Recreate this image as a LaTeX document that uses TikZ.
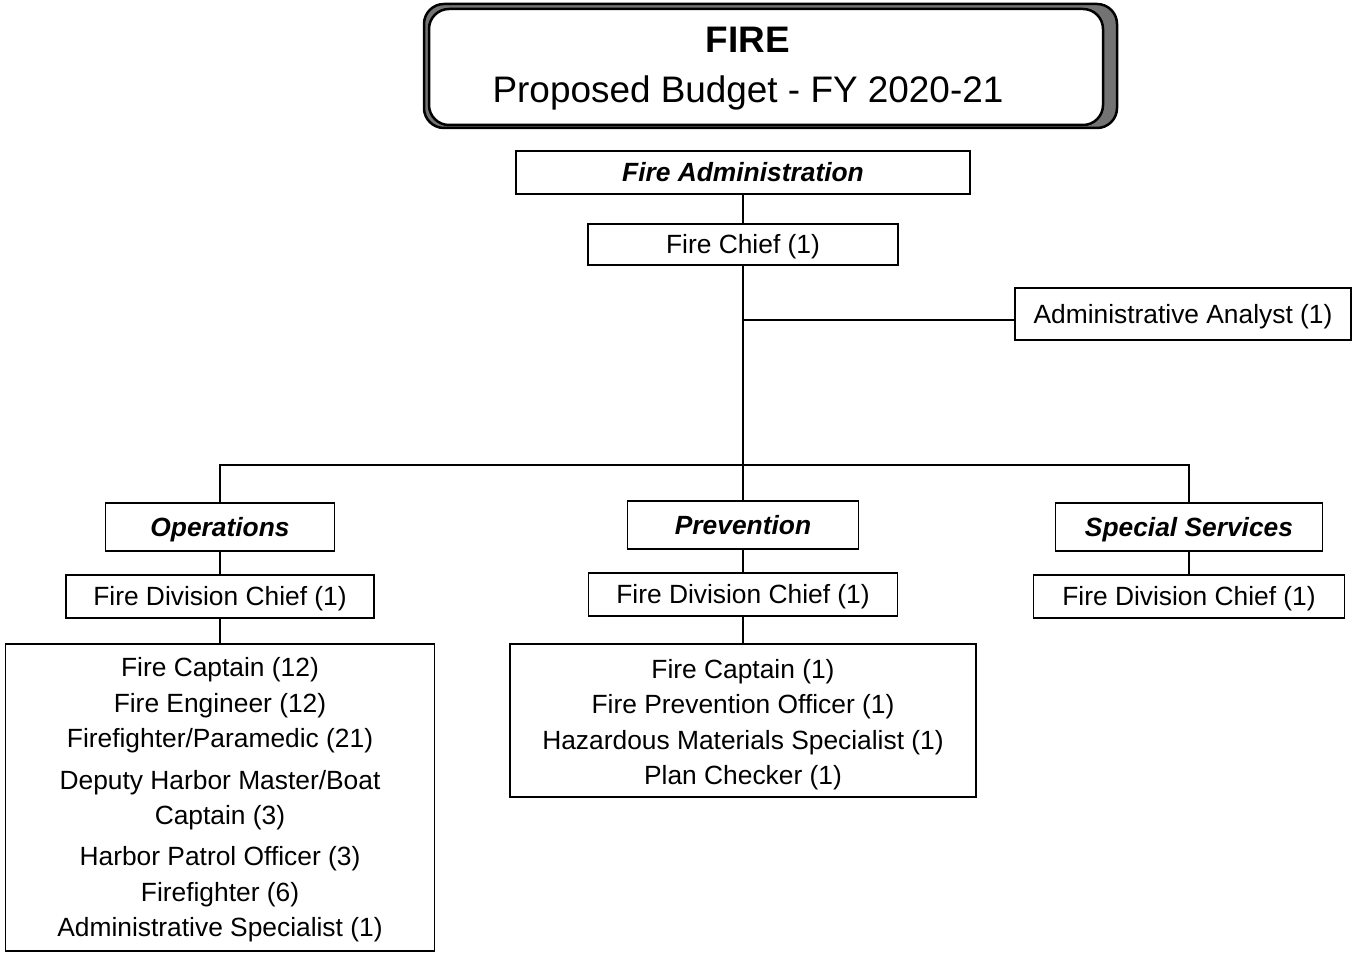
\documentclass[tikz,border=0pt]{standalone}
\usepackage{fontspec}
\setmainfont{Liberation Sans}
\usetikzlibrary{positioning}

\begin{document}
\begin{tikzpicture}[
    x=0.2mm, y=-0.2mm,
    box/.style={draw, line width=0.3mm, inner sep=0pt, outer sep=0pt, align=center, font=\fontsize{15}{20.2}\selectfont},
    unit/.style={box, font=\fontsize{15}{18}\selectfont\bfseries\itshape, minimum height=9.6mm, text height=10.7pt, text depth=0pt},
    post/.style={box, minimum height=8.6mm, text height=10.7pt, text depth=0pt},
    link/.style={line width=0.3mm},
    banner/.style={draw, line width=0.5mm, rounded corners=4mm},
    node distance=4.8mm
]
\useasboundingbox (0,0) rectangle (1359,953);

% Title
\node[banner, fill=black!55, minimum width=138.6mm, minimum height=24.8mm] (titleshade) at (770.5,66) {};
\node[banner, fill=white, minimum width=134.8mm, minimum height=23.2mm] (titlebox) at (766,67) {};
\node[align=center, inner sep=0pt, font=\fontsize{21}{28.45}\selectfont] (title) at (748,69)
    {\textbf{FIRE}\\Proposed Budget - FY 2020-21};

% Administration
\node[unit, minimum width=90.8mm, minimum height=8.6mm] (admin) at (743,172.5) {Fire Administration};
\node[post, below=6mm of admin, minimum width=62mm, minimum height=8.2mm] (chief) {Fire Chief (1)};
\node[post, minimum width=67.2mm, minimum height=10.4mm] (analyst) at (1183,314) {Administrative Analyst (1)};

% Divisions
\node[unit, minimum width=45.8mm] (ops) at (220,527) {Operations};
\node[unit, minimum width=46.2mm] (prev) at (743,525) {Prevention};
\node[unit, minimum width=53.4mm] (spec) at (1189,527) {Special Services};
\node[post, below=of ops, minimum width=61.6mm] (opschief) {Fire Division Chief (1)};
\node[post, below=of prev, minimum width=61.8mm] (prevchief) {Fire Division Chief (1)};
\node[post, below=of spec, minimum width=62.2mm] (specchief) {Fire Division Chief (1)};

% Staff lists
\node[box, below=5.2mm of opschief, minimum width=85.8mm, minimum height=61.4mm] (opslist)
    {\rule{0pt}{13.8pt}Fire Captain (12)\\Fire Engineer (12)\\Firefighter/Paramedic (21)\\[3.3pt]
     Deputy Harbor Master/Boat\\Captain (3)\\[3.3pt]
     Harbor Patrol Officer (3)\\Firefighter (6)\\Administrative Specialist (1)};
\node[box, below=5.6mm of prevchief, minimum width=93.2mm, minimum height=30.6mm] (prevlist)
    {\rule{0pt}{15.5pt}Fire Captain (1)\\Fire Prevention Officer (1)\\Hazardous Materials Specialist (1)\\Plan Checker (1)};

% Lines
\coordinate (j1) at (chief.south |- 0,320);
\coordinate (bus) at (chief.south |- 0,465);
\draw[link] (admin) -- (chief);
\draw[link] (chief.south) -- (chief.south |- prev.north);
\draw[link] (j1) -- (j1 -| analyst.west);
\draw[link] (ops.north) |- (bus) -| (spec.north);
\draw[link] (ops) -- (opschief);
\draw[link] (prev) -- (prevchief);
\draw[link] (spec) -- (specchief);
\draw[link] (opschief) -- (opslist);
\draw[link] (prevchief) -- (prevlist);
\end{tikzpicture}
\end{document}
